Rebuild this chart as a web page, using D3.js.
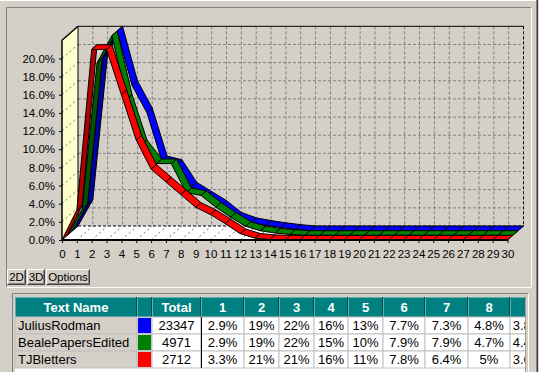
<!DOCTYPE html>
<html>
<head>
<meta charset="utf-8">
<script src="https://cdn.jsdelivr.net/npm/d3@7"></script>
<style>
  body { margin: 0; background: #d4d0c8; }
  svg { display: block; font-family: "Liberation Sans", Arial, sans-serif; }
</style>
</head>
<body>
<svg id="chart" width="539" height="372"></svg>
<script>
// categories along the x axis
const categories = [0,1,2,3,4,5,6,7,8,9,10,11,12,13,14,15,16,17,18,19,20,21,22,23,24,25,26,27,28,29,30];
const yTicks = [0,2,4,6,8,10,12,14,16,18,20];

// series values in percent, one per category
const juliusRodman      = [0,2.9,19,22,16,13,7.7,7.3,4.8,3.8,2.8,1.5,0.9,0.6,0.35,0.15,0,0,0,0,0,0,0,0,0,0,0,0,0,0,0];
const bealePapersEdited = [0,2.9,19,22,15,10,7.9,7.9,4.7,4.4,3.1,2.0,1.0,0.5,0.25,0.1,0,0,0,0,0,0,0,0,0,0,0,0,0,0,0];
const tjBletters        = [0,3.3,21,21,16,11,7.8,6.4,5,3.6,2.8,1.8,0.7,0.2,0.05,0,0,0,0,0,0,0,0,0,0,0,0,0,0,0,0];

const seriesNames = ["JuliusRodman", "BealePapersEdited", "TJBletters"];
const seriesValues = [juliusRodman, bealePapersEdited, tjBletters];
const seriesTotals = [23347, 4971, 2712];
const seriesColors = ["#0000ff", "#008000", "#ff0000"];
const seriesDark   = ["#0000a8", "#005400", "#b00000"];

const tableColumns = ["Text Name", "", "Total", "1", "2", "3", "4", "5", "6", "7", "8", "9"];

const svg = d3.select("#chart");

// window / panel frames
svg.append("line").attr("x1", 0).attr("x2", 539).attr("y1", 0.5).attr("y2", 0.5).attr("stroke", "#ffffff");
svg.append("line").attr("x1", 536.5).attr("x2", 536.5).attr("y1", 0).attr("y2", 372).attr("stroke", "#808080");
svg.append("line").attr("x1", 537.5).attr("x2", 537.5).attr("y1", 0).attr("y2", 372).attr("stroke", "#404040");

function sunken(x0, y0, x1, y1) {
    svg.append("path").attr("d", `M${x0},${y1}V${y0}H${x1}`).attr("fill", "none").attr("stroke", "#808080");
    svg.append("path").attr("d", `M${x0},${y1}H${x1}V${y0}`).attr("fill", "none").attr("stroke", "#ffffff");
}
sunken(6.5, 7.5, 531.5, 287.5);

// plot geometry
const x = d3.scaleLinear().domain([0, 30]).range([62, 507.5]);
const y = d3.scaleLinear().domain([0, 22]).range([240, 40.3]);
const depthX = 16, depthY = -14;
const pt = (i, v, z) => [x(i) + z * depthX, y(v) + z * depthY];

const g = svg.append("g");

// back wall
g.append("rect")
    .attr("x", x(0) + depthX).attr("y", y(22) + depthY)
    .attr("width", x(30) - x(0)).attr("height", y(0) - y(22))
    .attr("fill", "#d4d0c8");

// left wall
g.append("polygon")
    .attr("points", [pt(0, 0, 0), pt(0, 22, 0), pt(0, 22, 1), pt(0, 0, 1)].join(" "))
    .attr("fill", "#ffffcc");

// floor
g.append("polygon")
    .attr("points", [pt(0, 0, 0), pt(30, 0, 0), pt(30, 0, 1), pt(0, 0, 1)].join(" "))
    .attr("fill", "#ffffff");

// back wall grid
g.selectAll(".hgrid").data(yTicks.slice(1)).join("line")
    .attr("x1", x(0) + depthX).attr("x2", x(30) + depthX)
    .attr("y1", d => y(d) + depthY).attr("y2", d => y(d) + depthY)
    .attr("stroke", "#808080").attr("stroke-dasharray", "3,2");
g.selectAll(".vgrid").data(categories.slice(1, 30)).join("line")
    .attr("x1", d => x(d) + depthX).attr("x2", d => x(d) + depthX)
    .attr("y1", y(22) + depthY).attr("y2", y(0) + depthY)
    .attr("stroke", "#808080").attr("stroke-dasharray", "3,2");

// diagonal dashes on left wall and floor
g.selectAll(".wdiag").data(yTicks.slice(1)).join("line")
    .attr("x1", d => pt(0, d, 0)[0]).attr("y1", d => pt(0, d, 0)[1])
    .attr("x2", d => pt(0, d, 1)[0]).attr("y2", d => pt(0, d, 1)[1])
    .attr("stroke", "#707070").attr("stroke-dasharray", "2,3");
g.selectAll(".fdiag").data(categories.slice(1)).join("line")
    .attr("x1", d => pt(d, 0, 0)[0]).attr("y1", d => pt(d, 0, 0)[1])
    .attr("x2", d => pt(d, 0, 1)[0]).attr("y2", d => pt(d, 0, 1)[1])
    .attr("stroke", "#707070").attr("stroke-dasharray", "2,3");

// frame edges
g.append("path")
    .attr("d", `M${pt(0,0,1)}L${pt(0,22,1)}L${pt(30,22,1)}`)
    .attr("fill", "none").attr("stroke", "#000");
g.append("line")
    .attr("x1", x(30) + depthX).attr("x2", x(30) + depthX)
    .attr("y1", y(22) + depthY).attr("y2", y(0) + depthY)
    .attr("stroke", "#000").attr("stroke-dasharray", "3,2");
g.append("line")
    .attr("x1", x(0) + depthX).attr("x2", x(30) + depthX)
    .attr("y1", y(0) + depthY).attr("y2", y(0) + depthY)
    .attr("stroke", "#000").attr("stroke-dasharray", "3,2");
g.append("line")
    .attr("x1", pt(30,0,0)[0]).attr("y1", pt(30,0,0)[1])
    .attr("x2", pt(30,0,1)[0]).attr("y2", pt(30,0,1)[1])
    .attr("stroke", "#000").attr("stroke-dasharray", "3,2");
g.append("path")
    .attr("d", `M${pt(0,0,0)}L${pt(0,22,0)}L${pt(0,22,1)}`)
    .attr("fill", "none").attr("stroke", "#000").attr("stroke-width", 1.5);

// ribbons, drawn back to front
const slot = 1 / seriesValues.length;
seriesValues.forEach((vals, s) => {
    const z0 = (seriesValues.length - 1 - s) * slot;
    const z1 = z0 + slot;
    const segs = d3.pairs(categories);
    g.append("g").selectAll("polygon").data(segs).join("polygon")
        .attr("points", ([a, b]) => [pt(a, vals[a], z0), pt(b, vals[b], z0), pt(b, vals[b], z1), pt(a, vals[a], z1)].join(" "))
        .attr("fill", ([a, b]) => vals[b] > vals[a] ? seriesDark[s] : seriesColors[s])
        .attr("stroke", "#000").attr("stroke-width", 1).attr("stroke-linejoin", "round");
});

// front floor edge
g.append("line")
    .attr("x1", x(0)).attr("x2", x(30)).attr("y1", y(0)).attr("y2", y(0))
    .attr("stroke", "#000").attr("stroke-width", 2);

// axes
const yAxis = svg.append("g").attr("transform", `translate(${x(0)},0)`)
    .call(d3.axisLeft(y).tickValues(yTicks).tickFormat(d => d3.format(".1f")(d) + "%").tickSize(3).tickPadding(4));
const xAxis = svg.append("g").attr("transform", `translate(0,${y(0)})`)
    .call(d3.axisBottom(x).tickValues(categories).tickFormat(d3.format("d")).tickSize(3).tickPadding(7));
[xAxis, yAxis].forEach(a => {
    a.select(".domain").remove();
    a.selectAll("text").attr("font-size", 11.5).attr("font-family", "Liberation Sans, Arial, sans-serif").attr("fill", "#000");
    a.selectAll("line").attr("stroke", "#000");
});

// buttons
const buttons = [{label: "2D", x0: 7, x1: 26}, {label: "3D", x0: 27, x1: 45}, {label: "Options", x0: 46, x1: 90}];
const btn = svg.selectAll(".btn").data(buttons).join("g");
btn.append("rect").attr("x", d => d.x0).attr("y", 269).attr("width", d => d.x1 - d.x0).attr("height", 16).attr("fill", "#d4d0c8");
btn.append("path").attr("d", d => `M${d.x0 + 0.5},${284.5}V${269.5}H${d.x1 - 0.5}`).attr("fill", "none").attr("stroke", "#ffffff");
btn.append("path").attr("d", d => `M${d.x0 + 0.5},${284.5}H${d.x1 - 0.5}V${269.5}`).attr("fill", "none").attr("stroke", "#404040");
btn.append("path").attr("d", d => `M${d.x0 + 1.5},${283.5}H${d.x1 - 1.5}V${270.5}`).attr("fill", "none").attr("stroke", "#808080");
btn.append("text").attr("x", d => (d.x0 + d.x1) / 2).attr("y", 281).attr("text-anchor", "middle")
    .attr("font-size", 11.5).attr("fill", "#000").text(d => d.label);

// table
sunken(12.5, 293.5, 528.5, 380);
const colEdges = [15, 137, 152, 201, 244, 279, 314, 348, 383, 425, 468, 510, 545];
const rowEdges = [297, 317, 334, 351, 368];
const clipRight = 525;

svg.append("clipPath").attr("id", "tclip").append("rect")
    .attr("x", 14).attr("y", 295).attr("width", clipRight - 14).attr("height", 80);
const tbl = svg.append("g").attr("clip-path", "url(#tclip)");

tbl.append("rect").attr("x", 15).attr("y", rowEdges[4]).attr("width", clipRight - 15).attr("height", 10).attr("fill", "#ffffff");

// header
tableColumns.forEach((c, j) => {
    const x0 = colEdges[j], x1 = colEdges[j + 1];
    tbl.append("rect").attr("x", x0).attr("y", rowEdges[0]).attr("width", x1 - x0).attr("height", rowEdges[1] - rowEdges[0])
        .attr("fill", "#008080");
    tbl.append("path").attr("d", `M${x0 + 0.5},${rowEdges[1]}V${rowEdges[0] + 0.5}H${x1}`)
        .attr("fill", "none").attr("stroke", "#5fb0b0");
    tbl.append("line").attr("x1", x1 - 0.5).attr("x2", x1 - 0.5).attr("y1", rowEdges[0]).attr("y2", rowEdges[1])
        .attr("stroke", "#004c4c");
    if (j < tableColumns.length - 1) {
        tbl.append("text").attr("x", (x0 + x1) / 2).attr("y", rowEdges[0] + 15).attr("text-anchor", "middle")
            .attr("font-size", 13).attr("font-weight", "bold").attr("fill", "#ffffff").text(c);
    }
});

// rows
const fmt = d3.format(".2~r");
seriesNames.forEach((name, r) => {
    const y0 = rowEdges[r + 1], y1 = rowEdges[r + 2];
    const cells = [name, "", String(seriesTotals[r])].concat(seriesValues[r].slice(1, 10).map(v => fmt(v) + "%"));
    cells.forEach((c, j) => {
        const x0 = colEdges[j], x1 = colEdges[j + 1];
        tbl.append("rect").attr("x", x0).attr("y", y0).attr("width", x1 - x0).attr("height", y1 - y0)
            .attr("fill", j < 2 ? "#d4d0c8" : "#ffffff").attr("stroke", "#c0c0c0").attr("stroke-width", 1);
        if (j === 1) {
            tbl.append("rect").attr("x", x0 + 1).attr("y", y0 + 1).attr("width", x1 - x0 - 2).attr("height", y1 - y0 - 2)
                .attr("fill", seriesColors[r]);
        } else {
            tbl.append("text")
                .attr("x", j === 0 ? x0 + 3 : (x0 + x1) / 2)
                .attr("y", y0 + 13)
                .attr("text-anchor", j === 0 ? "start" : "middle")
                .attr("font-size", 13).attr("fill", "#000").text(c);
        }
    });
});
tbl.append("line").attr("x1", 201.5).attr("x2", 201.5).attr("y1", rowEdges[1]).attr("y2", rowEdges[4])
    .attr("stroke", "#000");
svg.append("line").attr("x1", clipRight + 0.5).attr("x2", clipRight + 0.5).attr("y1", 295).attr("y2", 372)
    .attr("stroke", "#a0a0a0");
</script>
</body>
</html>
